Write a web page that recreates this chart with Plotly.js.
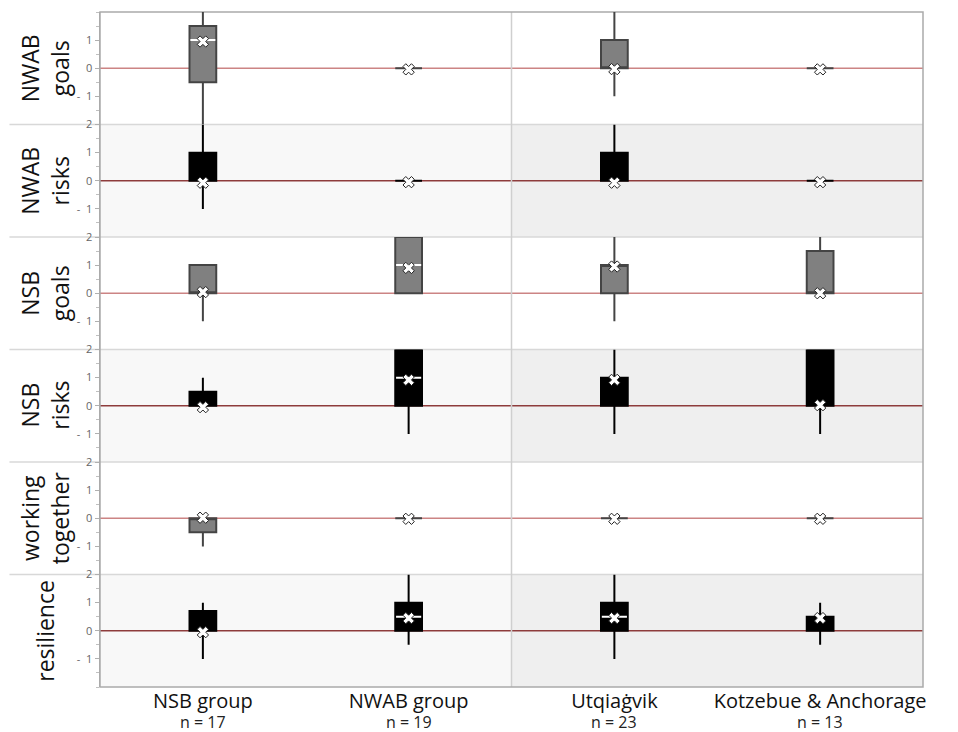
<!DOCTYPE html>
<html><head><meta charset="utf-8">
<script src="https://cdn.plot.ly/plotly-3.0.1.min.js"></script>
<style>html,body{margin:0;padding:0;background:#fff}#chart{width:958px;height:732px}</style>
</head><body><div id="chart"></div>
<script>
// categories
const groups = ['NSB group', 'NWAB group', 'Utqiaġvik', 'Kotzebue & Anchorage'];
const groupN = ['n = 17', 'n = 19', 'n = 23', 'n = 13'];
const rowLabels = ['NWAB<br>goals', 'NWAB<br>risks', 'NSB<br>goals', 'NSB<br>risks', 'working<br>together', 'resilience'];

// box statistics: one row per question, one column per group
const lowerWhisker = [
  [-2, 0, -1, 0],
  [-1, 0, 0, 0],
  [-1, 0, -1, 0],
  [0, -1, -1, -1],
  [-1, 0, 0, 0],
  [-1, -0.5, -1, -0.5]
];
const q1 = [
  [-0.5, 0, 0, 0],
  [0, 0, 0, 0],
  [0, 0, 0, 0],
  [0, 0, 0, 0],
  [-0.5, 0, 0, 0],
  [0, 0, 0, 0]
];
const median = [
  [1, 0, 0, 0],
  [0, 0, 0, 0],
  [0, 1, 1, 0],
  [0, 1, 1, 0],
  [0, 0, 0, 0],
  [0, 0.5, 0.5, 0.5]
];
const q3 = [
  [1.5, 0, 1, 0],
  [1, 0, 1, 0],
  [1, 2, 1, 1.5],
  [0.5, 2, 1, 2],
  [0, 0, 0, 0],
  [0.7, 1, 1, 0.5]
];
const upperWhisker = [
  [2, 0, 2, 0],
  [2, 0, 2, 0],
  [1, 2, 2, 2],
  [1, 2, 2, 2],
  [0, 0, 0, 0],
  [1, 2, 2, 1]
];
const mean = [
  [0.95, -0.04, -0.03, -0.04],
  [-0.07, -0.05, -0.07, -0.05],
  [0.04, 0.9, 0.95, 0],
  [-0.05, 0.92, 0.92, 0.02],
  [0.02, -0.02, -0.02, -0.02],
  [-0.05, 0.45, 0.45, 0.45]
];

const nRows = rowLabels.length;
const xs = groups.map((g, i) => i);
const boxW = 0.13;
const FONT = '"Open Sans", "Noto Sans", sans-serif';

const traces = [];
const layout = {
  width: 958, height: 732,
  margin: {l: 100, r: 35, t: 12, b: 45},
  paper_bgcolor: '#ffffff', plot_bgcolor: 'rgba(0,0,0,0)',
  showlegend: false,
  font: {family: FONT, color: '#111'},
  xaxis: {
    range: [-0.5, 3.5], tickmode: 'array', tickvals: xs, ticktext: groups,
    tickangle: 0, ticks: '', showgrid: false, zeroline: false, showline: false,
    tickfont: {family: FONT, size: 20, color: '#111'}, anchor: 'y6', fixedrange: true
  },
  shapes: [], annotations: []
};

for (let k = 0; k < nRows; k++) {
  const yName = k === 0 ? 'y' : 'y' + (k + 1);
  const axName = k === 0 ? 'yaxis' : 'yaxis' + (k + 1);
  const shaded = k % 2 === 1;
  const d0 = (nRows - 1 - k) / nRows, d1 = (nRows - k) / nRows;
  const tv = k === 0 ? [-1, 0, 1] : [-1, 0, 1, 2];
  layout[axName] = {
    domain: [d0, d1], range: [-2, 2], anchor: 'x',
    tickmode: 'array', tickvals: tv, ticktext: tv.map(v => v < 0 ? '-  ' + Math.abs(v) : String(v)),
    ticks: 'outside', ticklen: 4, tickcolor: '#b0b0b0', tickwidth: 1,
    minor: {tickmode: 'linear', tick0: 0, dtick: 0.5, ticks: 'outside', ticklen: 3, tickcolor: '#c0c0c0', showgrid: false},
    tickfont: {family: FONT, size: 11, color: '#666'},
    showgrid: false, showline: true, linecolor: '#aaaaaa', linewidth: 1.5,
    zeroline: false, fixedrange: true
  };

  // background shading
  if (shaded) {
    layout.shapes.push({type: 'rect', xref: 'x', yref: 'paper', x0: -0.5, x1: 1.5, y0: d0, y1: d1,
      fillcolor: '#f8f8f8', line: {width: 0}, layer: 'below'});
    layout.shapes.push({type: 'rect', xref: 'x', yref: 'paper', x0: 1.5, x1: 3.5, y0: d0, y1: d1,
      fillcolor: '#efefef', line: {width: 0}, layer: 'below'});
  }
  if (k > 0) {
    layout.shapes.push({type: 'line', xref: 'paper', yref: 'paper', x0: -0.11, x1: 1, y0: d1, y1: d1,
      line: {color: '#d8d8d8', width: 1.5}, layer: 'below'});
  }
  // zero reference line
  layout.shapes.push({type: 'line', xref: 'paper', yref: yName, x0: 0, x1: 1, y0: 0, y1: 0,
    line: {color: shaded ? '#8e3c3c' : '#cc8484', width: 1.5}, layer: 'below'});

  const fill = shaded ? '#000000' : '#808080';
  const lineCol = shaded ? '#000000' : '#444444';
  traces.push({
    type: 'box', xaxis: 'x', yaxis: yName, x: xs,
    q1: q1[k], median: median[k], q3: q3[k],
    lowerfence: lowerWhisker[k], upperfence: upperWhisker[k],
    width: boxW, whiskerwidth: 0, boxpoints: false,
    fillcolor: fill, line: {color: lineCol, width: 2}, hoverinfo: 'skip'
  });

  // white median lines inside boxes
  const mx = [], my = [];
  xs.forEach((x, i) => {
    if (median[k][i] > q1[k][i] && median[k][i] < q3[k][i]) {
      mx.push(x - boxW / 2 + 0.004, x + boxW / 2 - 0.004, null);
      my.push(median[k][i], median[k][i], null);
    }
  });
  traces.push({type: 'scatter', mode: 'lines', xaxis: 'x', yaxis: yName, x: mx, y: my,
    line: {color: '#ffffff', width: 2}, hoverinfo: 'skip'});

  // means
  traces.push({type: 'scatter', mode: 'markers', xaxis: 'x', yaxis: yName, x: xs, y: mean[k],
    marker: {symbol: 'x', size: 10, color: '#ffffff', line: {color: '#222', width: 1}}, hoverinfo: 'skip'});

  // row label
  layout.annotations.push({
    xref: 'paper', yref: 'paper', x: (45 - 100) / 823, y: (d0 + d1) / 2,
    xanchor: 'center', yanchor: 'middle', textangle: -90, showarrow: false,
    text: rowLabels[k], font: {family: FONT, size: 23, color: '#111'}
  });
}

// column divider and outer frame
layout.shapes.push({type: 'line', xref: 'x', yref: 'paper', x0: 1.5, x1: 1.5, y0: 0, y1: 1,
  line: {color: '#cfcfcf', width: 1.5}, layer: 'below'});
layout.shapes.push({type: 'rect', xref: 'paper', yref: 'paper', x0: 0, x1: 1, y0: 0, y1: 1,
  line: {color: '#aaaaaa', width: 1.5}, layer: 'below'});

// sample sizes under the group names
groupN.forEach((t, i) => {
  layout.annotations.push({xref: 'x', yref: 'paper', x: xs[i], y: -35 / 675, xanchor: 'center', yanchor: 'middle',
    showarrow: false, text: t, font: {family: FONT, size: 16, color: '#222'}});
});

Plotly.newPlot('chart', traces, layout, {displayModeBar: false, staticPlot: true});
</script>
</body></html>
